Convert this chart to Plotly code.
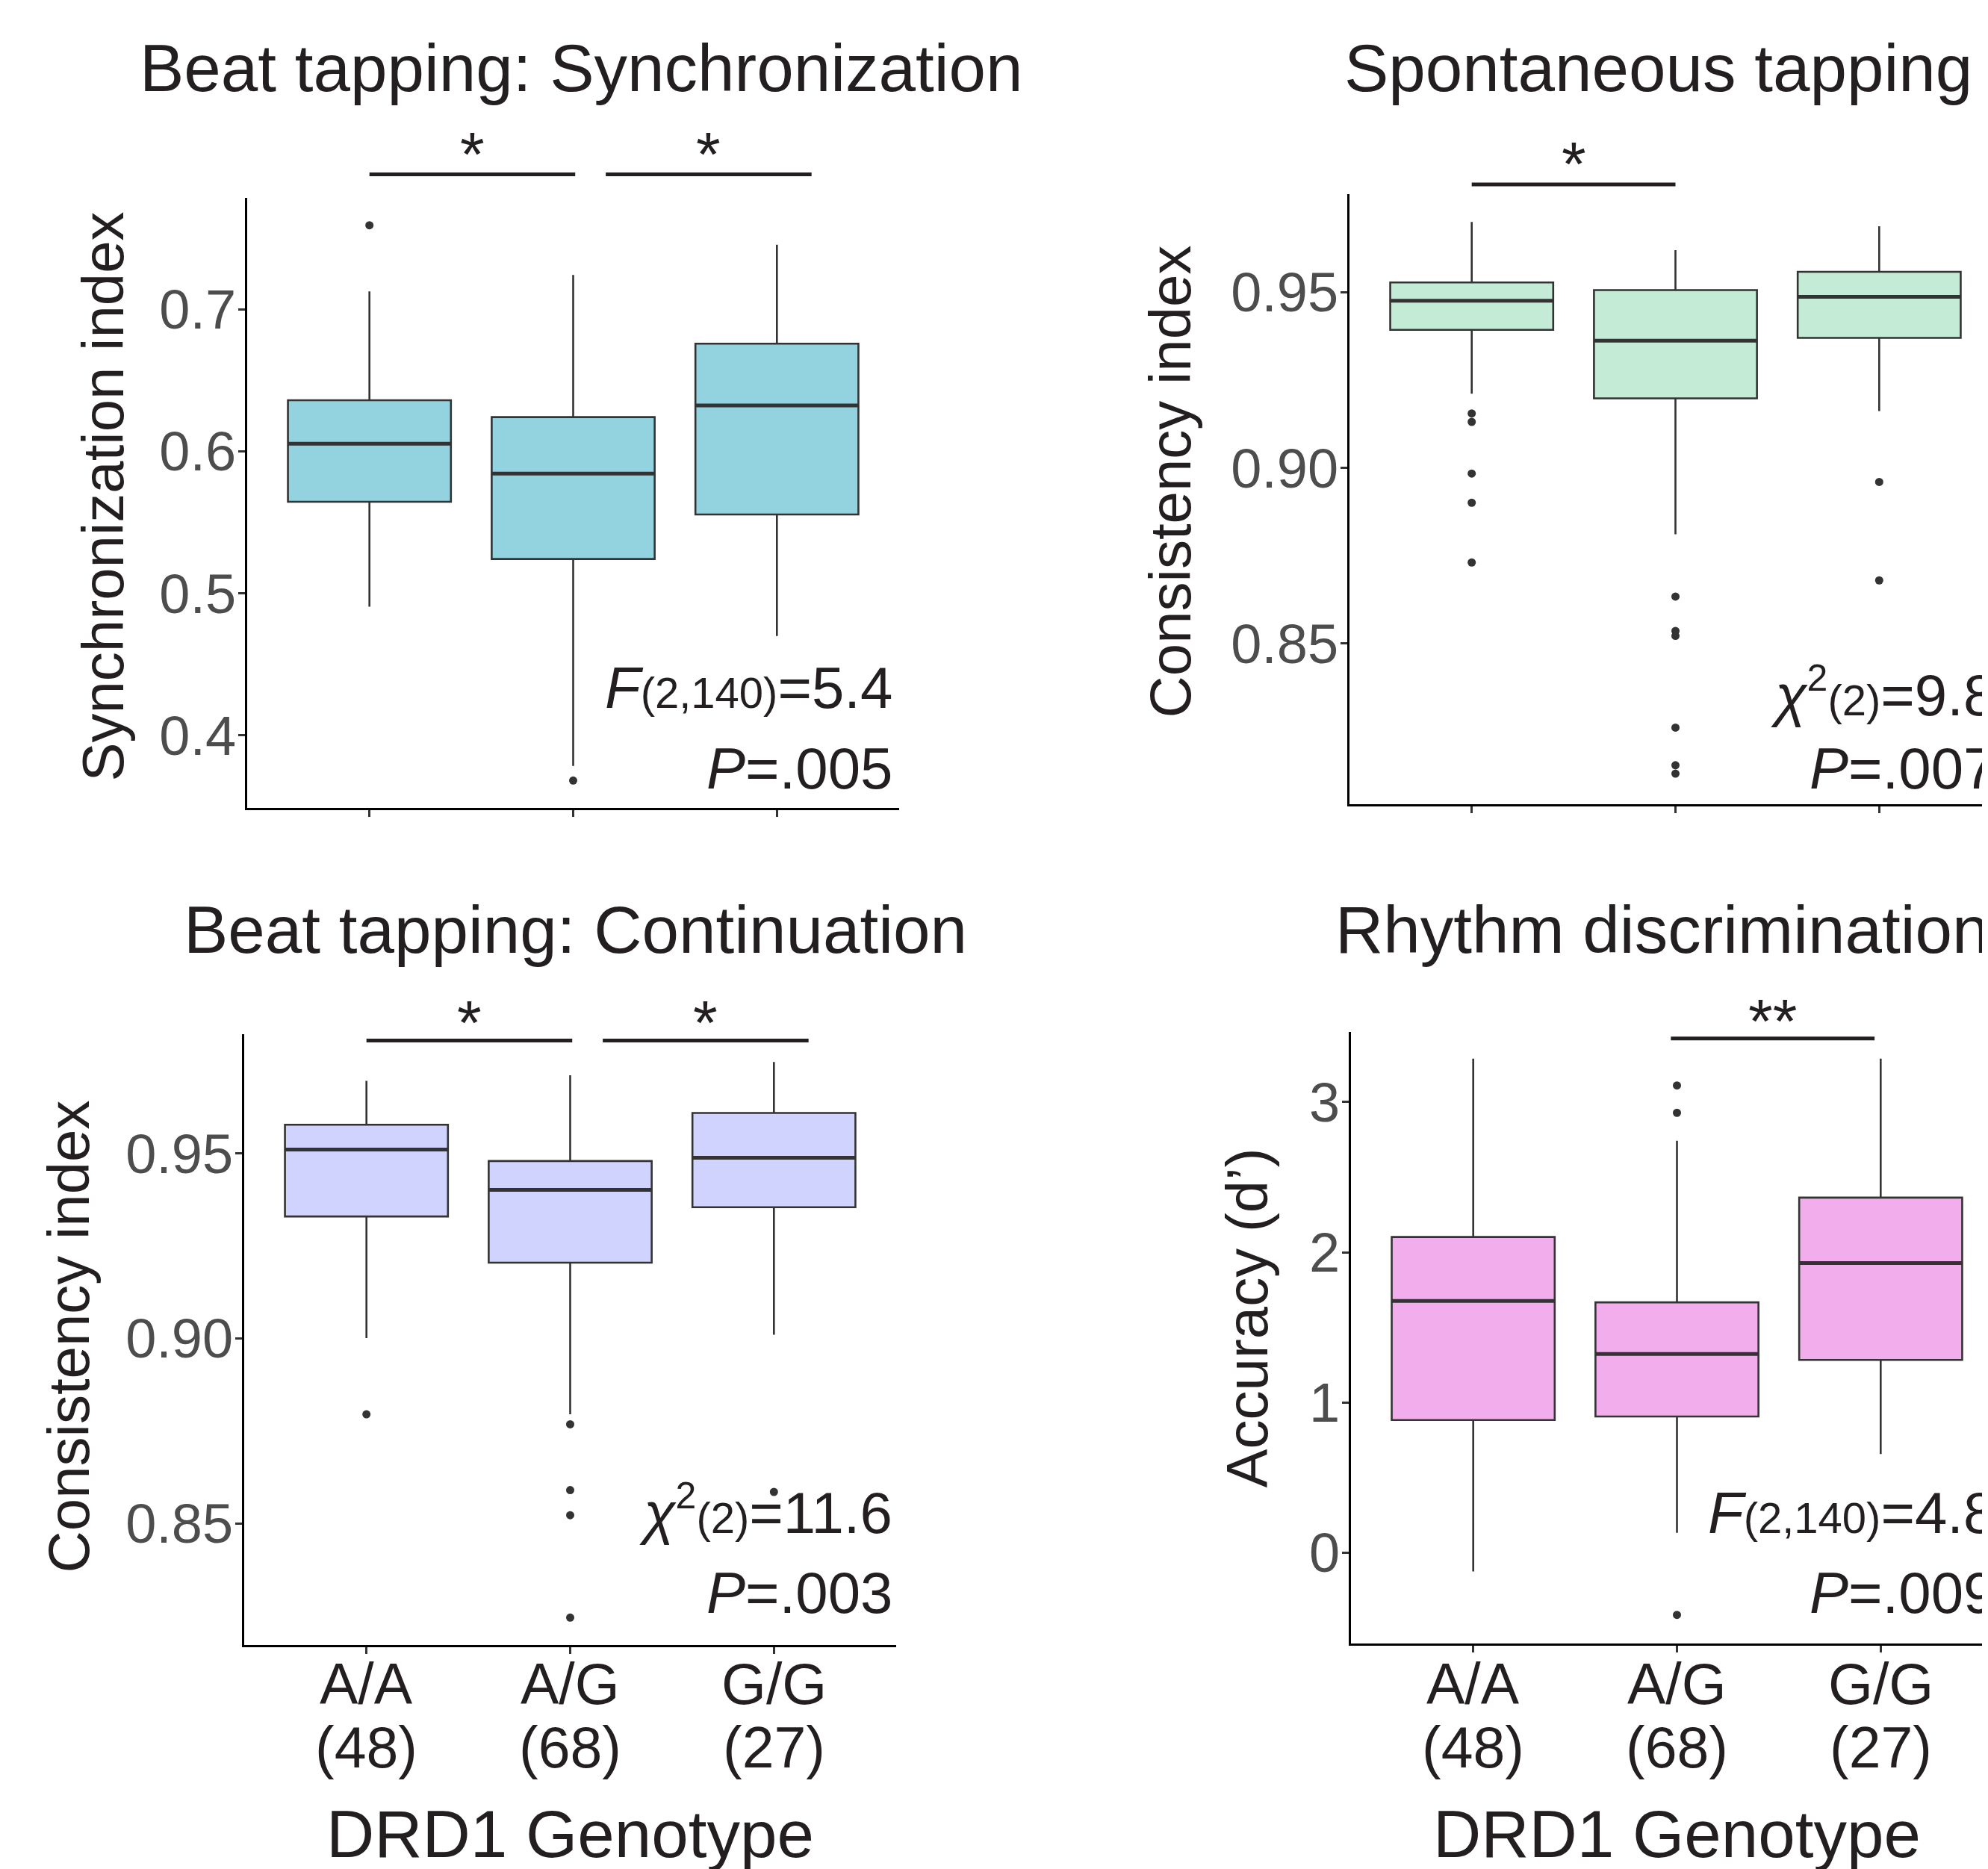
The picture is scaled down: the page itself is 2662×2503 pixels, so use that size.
import plotly.graph_objects as go

# The page body has an 8px default margin: the figure is sized so that it ends
# exactly at the window edge, and every pixel position below is in window pixels.
WIN_W, WIN_H = 2662, 2503
OFF = 8
W, H = WIN_W - OFF, WIN_H - OFF
FONT = "Liberation Sans, Arial, Helvetica, sans-serif"
TXT = "#231F20"
GREY = "#4D4D4D"
EDGE = "#333333"

# ---------------- data ----------------
genotypes = ["A/A", "A/G", "G/G"]
counts = ["(48)", "(68)", "(27)"]

# Beat tapping: Synchronization (Synchronization index)
sync_q1 = [0.5644, 0.5242, 0.5555]
sync_med = [0.6053, 0.5843, 0.6322]
sync_q3 = [0.6359, 0.6240, 0.6757]
sync_lo = [0.4906, 0.3786, 0.4700]
sync_hi = [0.7125, 0.7240, 0.7453]
sync_out_g = [0, 1]
sync_out_v = [0.759, 0.3683]
sync_ticks = [0.4, 0.5, 0.6, 0.7]
sync_ticktext = ["0.4", "0.5", "0.6", "0.7"]
sync_sig = [(0.0, 1.01, 0.7948, "*"), (1.16, 2.17, 0.7948, "*")]

# Spontaneous tapping (Consistency index)
spon_q1 = [0.9393, 0.9198, 0.9370]
spon_med = [0.9476, 0.9362, 0.9487]
spon_q3 = [0.9528, 0.9506, 0.9558]
spon_lo = [0.9211, 0.8811, 0.9162]
spon_hi = [0.9700, 0.9620, 0.9688]
spon_out_g = [0, 0, 0, 0, 0, 1, 1, 1, 1, 1, 1, 2, 2]
spon_out_v = [0.9155, 0.9131, 0.8984, 0.8901, 0.8731,
              0.8634, 0.8536, 0.8522, 0.8261, 0.8154, 0.8130,
              0.8960, 0.8680]
cons_ticks = [0.85, 0.90, 0.95]
cons_ticktext = ["0.85", "0.90", "0.95"]
spon_sig = [(0.0, 1.0, 0.9807, "*")]

# Beat tapping: Continuation (Consistency index)
cont_q1 = [0.9330, 0.9205, 0.9355]
cont_med = [0.9511, 0.9402, 0.9489]
cont_q3 = [0.9578, 0.9480, 0.9610]
cont_lo = [0.9001, 0.8795, 0.9010]
cont_hi = [0.9697, 0.9712, 0.9748]
cont_out_g = [0, 1, 1, 1, 1, 2]
cont_out_v = [0.8795, 0.8768, 0.8590, 0.8522, 0.8245, 0.8585]
cont_sig = [(0.0, 1.01, 0.9806, "*"), (1.16, 2.17, 0.9806, "*")]

# Rhythm discrimination (Accuracy d')
rhy_q1 = [0.884, 0.907, 1.284]
rhy_med = [1.676, 1.324, 1.929]
rhy_q3 = [2.102, 1.667, 2.364]
rhy_lo = [-0.124, 0.133, 0.658]
rhy_hi = [3.289, 2.742, 3.289]
rhy_out_g = [1, 1, 1]
rhy_out_v = [3.111, 2.929, -0.413]
rhy_ticks = [0, 1, 2, 3]
rhy_ticktext = ["0", "1", "2", "3"]
rhy_sig = [(0.97, 1.97, 3.423, "**")]

SMALL = "<span style='font-size:58px'>"
SUP2 = "<sup><span style='font-size:50px'>2</span></sup>"
panels = [
    dict(data=(sync_q1, sync_med, sync_q3, sync_lo, sync_hi, sync_out_g, sync_out_v),
         fill="#93D2DF", xd=(331, 1204), yd=(265, 1082), yr=(0.349, 0.7783),
         ticks=sync_ticks, ticktext=sync_ticktext, sig=sync_sig, star_shift=-20,
         title="Beat tapping: Synchronization", title_pos=(779, 122, "center"),
         ytitle="Synchronization index", ytitle_pos=(165, 665),
         stats=["<i>F</i>" + SMALL + "(2,140)</span>=5.4", "<i>P</i>=.005"],
         stats_pos=(1195, 948.5, 1056), bottom=False),
    dict(data=(spon_q1, spon_med, spon_q3, spon_lo, spon_hi, spon_out_g, spon_out_v),
         fill="#C3EBD6", xd=(1807, WIN_W), yd=(259.6, 1077), yr=(0.8043, 0.978),
         ticks=cons_ticks, ticktext=cons_ticktext, sig=spon_sig, star_shift=-20,
         title="Spontaneous tapping", title_pos=(1800, 122, "left"),
         ytitle="Consistency index", ytitle_pos=(1594, 645),
         stats=["<i>χ</i>" + SUP2 + SMALL + "(2)</span>=9.8", "<i>P</i>=.007"],
         stats_pos=(2672, 958, 1056), bottom=False),
    dict(data=(cont_q1, cont_med, cont_q3, cont_lo, cont_hi, cont_out_g, cont_out_v),
         fill="#CFD3FD", xd=(327, 1199.5), yd=(1384.5, 2203), yr=(0.8171, 0.9824),
         ticks=cons_ticks, ticktext=cons_ticktext, sig=cont_sig, star_shift=-24,
         title="Beat tapping: Continuation", title_pos=(770, 1276, "center"),
         ytitle="Consistency index", ytitle_pos=(119, 1790),
         stats=["<i>χ</i>" + SUP2 + SMALL + "(2)</span>=11.6", "<i>P</i>=.003"],
         stats_pos=(1195, 2053, 2160), bottom=True),
    dict(data=(rhy_q1, rhy_med, rhy_q3, rhy_lo, rhy_hi, rhy_out_g, rhy_out_v),
         fill="#F2AEEC", xd=(1809, WIN_W), yd=(1382, 2200.6), yr=(-0.6016, 3.467),
         ticks=rhy_ticks, ticktext=rhy_ticktext, sig=rhy_sig, star_shift=-24,
         title="Rhythm discrimination", title_pos=(1788, 1276, "left"),
         ytitle="Accuracy (d’)", ytitle_pos=(1697, 1765),
         stats=["<i>F</i>" + SMALL + "(2,140)</span>=4.8", "<i>P</i>=.009"],
         stats_pos=(2672, 2053, 2160), bottom=True),
]

PX_PER_UNIT = 873 / 3.2
BOX_W = 0.8
TITLE_SIZE = 89
AXT_SIZE = 78
STAT_SIZE = 78
XLAB_SIZE = 77

fig = go.Figure()
annotations = []
shapes = []


def px_x(p):
    return (p - OFF) / W


def px_y(p):
    return 1 - (p - OFF) / H


def text_ann(text, x, xref, baseline_px, size, xanchor, color=TXT, **kw):
    bottom = baseline_px + 0.212 * size
    return dict(text=text, x=x, xref=xref, y=px_y(bottom), yref="paper",
                xanchor=xanchor, yanchor="bottom", showarrow=False,
                borderpad=0, borderwidth=0,
                font=dict(family=FONT, size=size, color=color), **kw)


layout = {}
for i, p in enumerate(panels):
    xid = "x" if i == 0 else f"x{i+1}"
    yid = "y" if i == 0 else f"y{i+1}"
    xkey = "xaxis" if i == 0 else f"xaxis{i+1}"
    ykey = "yaxis" if i == 0 else f"yaxis{i+1}"
    q1, med, q3, lo, hi, og, ov = p["data"]
    xs = list(range(len(genotypes)))

    fig.add_trace(go.Box(x=xs, q1=q1, median=med, q3=q3, lowerfence=lo, upperfence=hi,
                         width=BOX_W, fillcolor=p["fill"],
                         line=dict(color=EDGE, width=2.6), whiskerwidth=0,
                         boxpoints=False, xaxis=xid, yaxis=yid,
                         showlegend=False, hoverinfo="skip"))
    mx, my = [], []
    for g, m in zip(xs, med):
        mx += [g - BOX_W / 2, g + BOX_W / 2, None]
        my += [m, m, None]
    fig.add_trace(go.Scatter(x=mx, y=my, mode="lines", line=dict(color=EDGE, width=5),
                             xaxis=xid, yaxis=yid, showlegend=False, hoverinfo="skip"))
    fig.add_trace(go.Scatter(x=og, y=ov, mode="markers",
                             marker=dict(color=EDGE, size=11),
                             xaxis=xid, yaxis=yid, showlegend=False, hoverinfo="skip",
                             cliponaxis=False))

    x0px, x1px = p["xd"]
    top_px, bot_px = p["yd"]
    xr = (-0.6, -0.6 + (x1px - x0px) / PX_PER_UNIT)
    layout[xkey] = dict(domain=[px_x(x0px), min(1.0, px_x(x1px))], range=list(xr), anchor=yid,
                        showline=True, linecolor="black", linewidth=3,
                        ticks="outside", ticklen=9, tickwidth=2.5, tickcolor=EDGE,
                        tickvals=xs, showticklabels=False,
                        showgrid=False, zeroline=False, fixedrange=True)
    layout[ykey] = dict(domain=[px_y(bot_px), px_y(top_px)], range=list(p["yr"]), anchor=xid,
                        showline=True, linecolor="black", linewidth=3,
                        ticks="outside", ticklen=9, tickwidth=2.5, tickcolor=EDGE,
                        tickvals=p["ticks"], ticktext=p["ticktext"],
                        ticklabelstandoff=-12,
                        tickfont=dict(family=FONT, size=74, color=GREY),
                        showgrid=False, zeroline=False, fixedrange=True)

    y0, y1 = p["yr"]
    for (a, b, v, label) in p["sig"]:
        frac = (v - y0) / (y1 - y0)
        shapes.append(dict(type="line", xref=xid, yref=f"{yid} domain",
                           x0=a, x1=b, y0=frac, y1=frac,
                           line=dict(color=TXT, width=5)))
        annotations.append(dict(text=label, x=(a + b) / 2, xref=xid,
                                y=frac, yref=f"{yid} domain",
                                xanchor="center", yanchor="bottom", yshift=p["star_shift"],
                                showarrow=False, borderpad=0, borderwidth=0,
                                font=dict(family=FONT, size=84, color=TXT)))

    # title
    tx, tb, tanchor = p["title_pos"]
    annotations.append(text_ann(p["title"], px_x(tx), "paper", tb, TITLE_SIZE, tanchor))

    # y-axis title (rotated)
    bx, cy = p["ytitle_pos"]
    annotations.append(dict(text=p["ytitle"], x=px_x(bx + 0.212 * AXT_SIZE), xref="paper",
                            y=px_y(cy), yref="paper", xanchor="right", yanchor="middle",
                            textangle=-90, showarrow=False, borderpad=0, borderwidth=0,
                            font=dict(family=FONT, size=AXT_SIZE, color=TXT)))

    # statistics text
    rx, b1, b2 = p["stats_pos"]
    annotations.append(text_ann(p["stats"][0], px_x(rx), "paper", b1, STAT_SIZE, "right"))
    annotations.append(text_ann(p["stats"][1], px_x(rx), "paper", b2, STAT_SIZE, "right"))

    if p["bottom"]:
        for g, lab, n in zip(xs, genotypes, counts):
            annotations.append(text_ann(lab, g, xid, 2282, XLAB_SIZE, "center"))
            annotations.append(text_ann(n, g, xid, 2367, XLAB_SIZE, "center"))
        annotations.append(text_ann("DRD1 Genotype", 1, xid, 2487, TITLE_SIZE, "center"))

fig.update_layout(width=W, height=H, margin=dict(l=0, r=0, t=0, b=0),
                  paper_bgcolor="white", plot_bgcolor="white",
                  showlegend=False, annotations=annotations, shapes=shapes,
                  font=dict(family=FONT, color=TXT), **layout)

fig.write_html("out.html")
